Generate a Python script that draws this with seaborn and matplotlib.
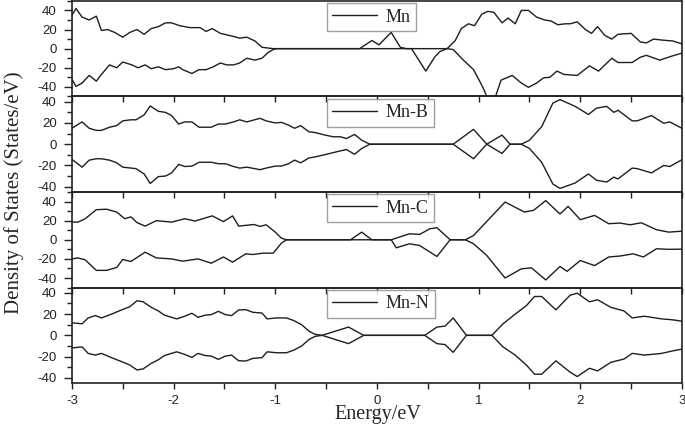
import numpy as np
import matplotlib
matplotlib.use("Agg")
import matplotlib.pyplot as plt
import pandas as pd
import seaborn as sns
from matplotlib.ticker import MultipleLocator, FormatStrFormatter

sns.set_style("ticks")
plt.rcParams['font.family'] = ['Liberation Sans', 'DejaVu Sans']
plt.rcParams['axes.unicode_minus'] = False

# ---- Mn ----
mn_up_e = [-3.0, -2.96, -2.90, -2.83, -2.76, -2.71, -2.65, -2.58, -2.50, -2.43, -2.36, -2.29, -2.22, -2.15,
           -2.08, -2.02, -1.94, -1.84, -1.74, -1.68, -1.62, -1.54, -1.42, -1.35, -1.28, -1.20, -1.13, -1.02,
           -0.17, -0.05, 0.02, 0.14, 0.23, 0.29, 0.69, 0.77, 0.83, 0.90, 0.96, 1.03, 1.09, 1.15, 1.23, 1.29,
           1.36, 1.42, 1.49, 1.57, 1.65, 1.71, 1.78, 1.85, 1.90, 1.97, 2.05, 2.11, 2.17, 2.24, 2.31, 2.37,
           2.50, 2.59, 2.65, 2.72, 2.80, 2.91, 3.0]
mn_up = [35, 42, 33, 30, 34, 19, 20, 17, 12, 17, 20, 15, 21, 23,
         27, 27, 24, 22, 22, 18, 21, 16, 13, 11, 12, 8, 1.4, 0,
         0, 8.5, 4, 17, 1.4, 0, 0, 8.5, 21, 26, 24, 36, 39, 38, 27, 32,
         26, 40, 40, 33, 30, 29, 25, 26, 26, 28, 20, 16, 23, 14, 10, 15,
         16, 7, 6, 10, 9, 8, 5]
mn_dn_e = [-3.0, -2.96, -2.90, -2.83, -2.76, -2.71, -2.63, -2.56, -2.50, -2.41, -2.35, -2.28, -2.22, -2.15,
           -2.08, -2.00, -1.95, -1.91, -1.82, -1.75, -1.68, -1.61, -1.54, -1.48, -1.41, -1.35, -1.28, -1.20,
           -1.13, -1.07, -1.02, -0.99,
           0.34, 0.48, 0.57, 0.62, 0.69, 0.75, 0.85, 0.95, 1.03, 1.09, 1.16, 1.22, 1.33, 1.42, 1.49, 1.57,
           1.64, 1.70, 1.77, 1.84, 1.97, 2.09, 2.18, 2.31, 2.37, 2.51, 2.59, 2.65, 2.78, 2.91, 3.0]
mn_dn = [-32, -39.5, -36, -28, -34, -27, -17, -20, -14, -17, -20, -17, -21, -19,
         -22, -21, -19, -22, -26, -22, -22, -19, -15, -17, -17, -15, -10, -12,
         -10, -4, -1, 0,
         0, -23.5, -8.5, -3, 0, -1, -12, -22, -38, -52, -52, -33, -28, -36, -40.5, -36,
         -30.5, -30, -23.5, -27, -28, -18, -23.5, -10, -14.5, -14.5, -9, -7, -12, -7.5, -4.6]

# ---- Mn-B ----
mnb_up_e = [-3.0, -2.90, -2.83, -2.76, -2.71, -2.63, -2.56, -2.50, -2.42, -2.37, -2.29, -2.23, -2.15, -2.08,
            -2.02, -1.95, -1.89, -1.82, -1.75, -1.63, -1.56, -1.49, -1.41, -1.35, -1.28, -1.15, -1.09, -1.0,
            -0.94, -0.87, -0.81, -0.75, -0.67, -0.61, -0.51, -0.43,
            -0.36, -0.30, -0.22, -0.15, -0.07, 0.75, 0.95, 1.08, 1.23, 1.31, 1.42, 1.50, 1.62, 1.73,
            1.80, 1.95, 2.08, 2.16, 2.26, 2.33, 2.37, 2.51, 2.56, 2.70, 2.82, 2.88, 3.0]
mnb_up = [15, 21, 15, 13, 13, 16, 17.5, 22, 23, 23, 27.6, 36, 31, 30,
          27, 19, 21, 21, 16, 16, 19, 19, 21, 23, 21, 24.4, 22, 20,
          20.6, 18, 15, 17.5, 11.7, 11, 8.6, 7,
          7, 5.4, 9.2, 3.8, 0, 0, 14, 0, 8.6, 0, 0, 3.8, 16.5, 38.7,
          42, 35.6, 28, 34, 35.6, 30, 32, 22, 22, 27, 19.7, 21, 15]
mnb_dn_e = [-3.0, -2.90, -2.83, -2.76, -2.71, -2.63, -2.56, -2.50, -2.37, -2.29, -2.23, -2.15, -2.08, -2.02,
            -1.95, -1.89, -1.82, -1.75, -1.63, -1.56, -1.49, -1.41, -1.35, -1.28, -1.15, -1.09, -1.0, -0.94,
            -0.87, -0.81, -0.75, -0.67, -0.61, -0.51, -0.43,
            -0.36, -0.30, -0.22, -0.15, -0.07, 0.75, 0.95, 1.08, 1.23, 1.31, 1.42, 1.50, 1.62, 1.73,
            1.80, 1.95, 2.08, 2.16, 2.26, 2.33, 2.37, 2.51, 2.56, 2.70, 2.82, 2.88, 3.0]
mnb_dn = [-14.3, -21.6, -15, -13.7, -13.7, -15, -17.5, -21.6, -23, -28, -37, -30.5, -30, -27,
          -19, -21, -20.6, -17, -17, -18.4, -18.4, -21, -22.5, -21.6, -24, -22.5, -20.6, -20.6,
          -18.4, -15, -17.5, -13, -12, -9.8, -7.9,
          -6.3, -5, -9.5, -4, 0, 0, -13.7, 0, -8.7, 0, 0, -4, -17, -37.5,
          -41.6, -36.5, -28, -34, -35.6, -31, -32.7, -22.5, -23, -27, -20, -21, -14.6]

# ---- Mn-C ----
mnc_up_e = [-3.0, -2.94, -2.87, -2.76, -2.66, -2.56, -2.48, -2.42, -2.36, -2.28, -2.17, -2.02, -1.89, -1.79,
            -1.62, -1.51, -1.42, -1.36, -1.21, -1.15, -1.09, -1.0, -0.94, -0.89,
            -0.26, -0.15, -0.05, 0.14, 0.32, 0.42, 0.52, 0.59, 0.72, 0.87, 0.95, 1.26, 1.45, 1.54,
            1.66, 1.80, 1.88, 2.00, 2.14, 2.28, 2.39, 2.49, 2.60, 2.75, 2.87, 3.0]
mnc_up = [18.5, 18.5, 22, 31.5, 32, 29, 22, 24, 18, 14.3, 20, 18.5, 22, 19.6,
          25, 19, 25, 14.3, 16, 14, 15.7, 8, 1.7, 0,
          0, 8, 0, 0, 6.3, 5.6, 11.5, 12.6, 0, 0, 4.5, 39.5, 29, 30.8,
          41, 27, 35, 21, 25.5, 16.8, 17.5, 15.7, 17.8, 10.5, 8, 9]
mnc_dn_e = [-3.0, -2.94, -2.87, -2.76, -2.66, -2.56, -2.50, -2.42, -2.28, -2.17, -2.02, -1.91, -1.76, -1.63,
            -1.51, -1.42, -1.29, -1.22, -1.12, -1.02, -0.94, -0.89,
            -0.26, 0.14, 0.19, 0.32, 0.42, 0.59, 0.72, 0.87, 0.95, 1.08, 1.26, 1.42, 1.52, 1.66,
            1.80, 1.87, 2.00, 2.14, 2.28, 2.39, 2.52, 2.62, 2.75, 2.87, 3.0]
mnc_dn = [-20, -19, -21, -32, -32, -29, -20.6, -22.7, -13, -19, -20, -22.4, -20, -24.5,
          -18, -23.4, -14.7, -15.4, -14, -14, -3.5, 0,
          0, 0, -8.4, -4.2, -6, -17.5, 0, 0, -4.2, -16.4, -40, -30.4, -29.4, -42,
          -28, -33, -21.7, -27, -18, -17, -14.7, -18, -9.4, -10, -9.8]

# ---- Mn-N ----
mnn_e = [-3.0, -2.90, -2.84, -2.77, -2.71, -2.61, -2.51, -2.43, -2.36, -2.30, -2.22, -2.15, -2.09, -1.97,
         -1.89, -1.82, -1.76, -1.69, -1.63, -1.56, -1.49, -1.43, -1.36, -1.29, -1.22, -1.13, -1.08, -0.99,
         -0.89, -0.82, -0.74, -0.67, -0.61, -0.54,
         -0.28, -0.13, 0.47, 0.59, 0.67, 0.75, 0.88, 1.13, 1.24, 1.36, 1.47, 1.55, 1.62, 1.76,
         1.90, 1.97, 2.09, 2.17, 2.30, 2.43, 2.51, 2.63, 2.80, 2.91, 3.0]
mnn_up = [11.8, 10.9, 16.4, 18.6, 16.4, 20, 24, 27, 32.6, 31.6, 26.4, 23, 19, 15.5,
          18, 20.8, 17, 19, 19.5, 22.6, 19.5, 18.6, 23.9, 24.2, 21.7, 21, 15.5, 16.4,
          16.4, 14, 10, 4, 1, 0,
          7.8, 0, 0, 7.8, 8.7, 16.4, 0, 0, 10.9, 20, 28, 36.6, 36.6, 24,
          37.8, 39.7, 31.6, 33.5, 26.4, 23, 16.4, 18, 15.5, 14.6, 13.3]
mnn_dn = [-11.8, -10.9, -17, -18.6, -17, -21, -24.8, -28, -32.6, -31.6, -26.4, -23, -19, -15.5,
          -18, -20.8, -17, -19, -19.5, -22.6, -19.5, -18.6, -23.9, -24.2, -21.7, -21, -15.5, -16.4,
          -16.4, -14, -10, -4, -1, 0,
          -7.8, 0, 0, -7.8, -8.7, -16, 0, 0, -10.9, -18.6, -28, -36.6, -36.6, -24,
          -34.7, -38.8, -31, -33.5, -25.4, -22.3, -17, -18.6, -17, -14.6, -13]

panels = [
    ("Mn", mn_up_e, mn_up, mn_dn_e, mn_dn, 50),
    ("Mn-B", mnb_up_e, mnb_up, mnb_dn_e, mnb_dn, 45),
    ("Mn-C", mnc_up_e, mnc_up, mnc_dn_e, mnc_dn, 50),
    ("Mn-N", mnn_e, mnn_up, mnn_e, mnn_dn, 45),
]

line_col = "#1e1e1e"

fig, axes = plt.subplots(4, 1, figsize=(6.85, 4.30), dpi=100, sharex=True)
fig.subplots_adjust(left=0.105, right=0.9956, top=0.998, bottom=0.109, hspace=0)

for ax, (name, ue, uv, de, dv, lim) in zip(axes, panels):
    ax.set_facecolor("none")
    sns.lineplot(x=ue, y=uv, ax=ax, color=line_col, lw=1.0, label=name, estimator=None, sort=False)
    sns.lineplot(x=de, y=dv, ax=ax, color=line_col, lw=1.0, estimator=None, sort=False)
    ax.set_xlim(-3, 3)
    ax.set_ylim(-lim, lim)
    ax.set_yticks([-40, -20, 0, 20, 40])
    ax.yaxis.set_minor_locator(MultipleLocator(10))
    ax.xaxis.set_major_locator(MultipleLocator(1))
    ax.xaxis.set_minor_locator(MultipleLocator(0.5))
    ax.xaxis.set_major_formatter(FormatStrFormatter("%d"))
    ax.tick_params(which="both", direction="out", labelsize=9.5, width=1, color="#222222",
                   labelcolor="#222222")
    ax.tick_params(axis="y", which="major", length=6, pad=5)
    ax.tick_params(axis="y", which="minor", length=3.5)
    ax.tick_params(axis="x", which="both", length=4, pad=4.5)
    ax.set_xlabel("")
    ax.set_ylabel("")
    for s in ax.spines.values():
        s.set_linewidth(1.2)
        s.set_color("#222222")
    leg = ax.legend(loc="upper left", bbox_to_anchor=(0.418, 0.975), borderaxespad=0,
                    frameon=True, fancybox=False, handlelength=2.5, handletextpad=0.45,
                    borderpad=0.3, prop={"family": "Liberation Serif", "size": 13})
    leg.get_frame().set_edgecolor("#888888")
    leg.get_frame().set_linewidth(1.0)

fig.text(0.021, 0.553, "Density of States (States/eV)", rotation=90, ha="center", va="center",
         family="Liberation Serif", fontsize=15)
fig.text(0.552, 0.035, "Energy/eV", ha="center", va="center", family="Liberation Serif", fontsize=14.5)

plt.savefig("out.png", dpi=100)
plt.close()
